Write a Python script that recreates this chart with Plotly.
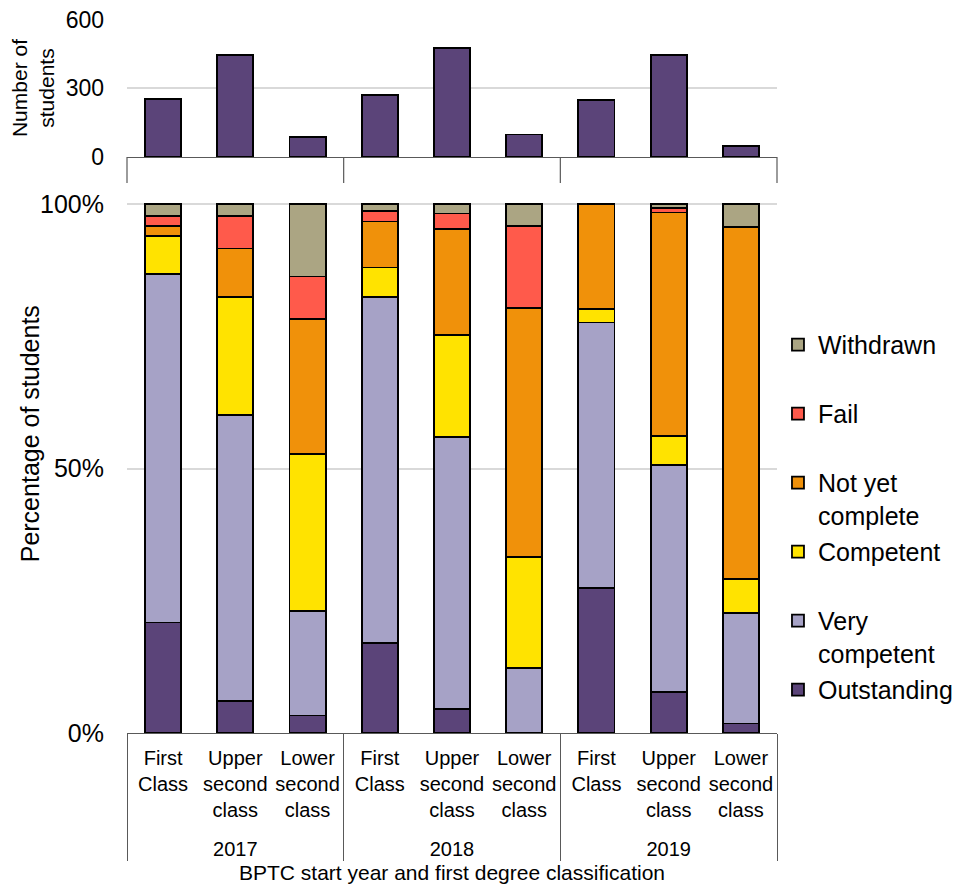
import plotly.graph_objects as go

years = ["2017", "2018", "2019"]
PAD = "<br><span style='font-size:2px'>\u00a0</span>"
classes = ["First<br>Class", "Upper<br>second<br>class" + PAD, "Lower<br>second<br>class" + PAD]

students = [253, 445, 88, 271, 476, 98, 250, 445, 47]

outstanding = [20.9, 6.0, 3.3, 17.0, 4.5, None, 27.4, 7.7, 1.8]
very_competent = [65.9, 54.1, 19.8, 65.5, 51.5, 12.3, 50.2, 43.0, 20.9]
competent = [7.2, 22.4, 29.6, 5.5, 19.2, 20.9, 2.5, 5.5, 6.4]
not_yet_complete = [1.8, 9.1, 25.6, 8.7, 20.1, 47.1, 19.9, 42.2, 66.6]
fail = [2.0, 6.2, 8.0, 2.0, 2.9, 15.5, None, 0.8, None]
withdrawn = [2.2, 2.2, 13.7, 1.3, 1.8, 4.2, None, 0.8, 4.3]

pct_ticks = [0, 50, 100]
pct_labels = ["0%", "50%", "100%"]
count_ticks = [0, 300, 600]

series = [
    ("Outstanding", outstanding, "#5B4479"),
    ("Very<br>competent", very_competent, "#A6A2C6"),
    ("Competent<br>\u00a0", competent, "#FFE300"),
    ("Not yet<br>complete", not_yet_complete, "#F0910A"),
    ("Fail<br>\u00a0", fail, "#FF5A4B"),
    ("Withdrawn<br>\u00a0", withdrawn, "#ABA583"),
]

x_multi = [[y for y in years for _ in classes], [c for _ in years for c in classes]]

FONT = "Liberation Sans, Arial, sans-serif"
AXIS_DARK = "#595959"
GRID = "#D9D9D9"

# page body has an 8px margin; the figure is sized to fill the rest of the window
W, H = 952, 877

fig = go.Figure()

fig.add_trace(go.Bar(
    x=x_multi, y=students, xaxis="x2", yaxis="y2",
    marker=dict(color="#5B4479", line=dict(color="black", width=1.8)),
    width=0.5, showlegend=False,
))

n = len(series)
for i, (name, vals, color) in enumerate(series):
    fig.add_trace(go.Bar(
        x=x_multi, y=vals, name=name, xaxis="x", yaxis="y",
        legendgroup=f"g{i}", legendrank=n - i,
        marker=dict(color=color, line=dict(color="black", width=1.8)),
        width=0.5,
    ))

fig.update_layout(
    width=W, height=H,
    margin=dict(l=119, r=183, t=10, b=152, autoexpand=False),
    paper_bgcolor="white", plot_bgcolor="white",
    barmode="stack",
    font=dict(family=FONT, color="black"),
    xaxis=dict(
        type="multicategory", domain=[0, 1], anchor="y",
        showline=True, linecolor=AXIS_DARK, linewidth=1.2,
        showgrid=False, showdividers=True, dividercolor=AXIS_DARK, dividerwidth=1.2,
        tickangle=0, ticklabelstandoff=7,
        tickfont=dict(size=20, family=FONT, color="black"),
        title=dict(text="BPTC start year and first degree classification",
                   font=dict(size=21, family=FONT, color="black"), standoff=6),
        automargin=False,
    ),
    yaxis=dict(
        domain=[0, 0.7413], anchor="x", range=[0, 100.2],
        tickvals=pct_ticks, ticktext=pct_labels,
        showgrid=True, gridcolor=GRID, gridwidth=1.5, zeroline=False,
        showline=False, ticklabelstandoff=22,
        tickfont=dict(size=25, family=FONT, color="black"),
        automargin=False,
    ),
    xaxis2=dict(
        type="multicategory", domain=[0, 1], anchor="y2",
        showticklabels=False, showline=True, linecolor=AXIS_DARK, linewidth=1.2,
        showgrid=False, showdividers=False, automargin=False,
    ),
    yaxis2=dict(
        domain=[0.8056, 0.9985], anchor="x2", range=[0, 602],
        tickvals=count_ticks, ticklabeloverflow="allow",
        showgrid=True, gridcolor=GRID, gridwidth=1.5, zeroline=False,
        showline=False, ticklabelstandoff=22,
        tickfont=dict(size=23, family=FONT, color="black"),
        title=dict(text="Number of<br>students", font=dict(size=21, family=FONT, color="black"), standoff=10),
        automargin=False,
    ),
    legend=dict(
        x=0.0015 + 1, xanchor="left", y=0.575, yanchor="top",
        traceorder="grouped", tracegroupgap=1, valign="top",
        font=dict(size=25, family=FONT, color="black"),
        itemwidth=30, bgcolor="rgba(0,0,0,0)",
    ),
    annotations=[dict(
        text="Percentage of students", textangle=-90,
        xref="paper", yref="paper", x=-0.149, y=0.418,
        xanchor="center", yanchor="middle", showarrow=False,
        font=dict(size=25, family=FONT, color="black"),
    )],
)

# short group separators under the top panel's baseline
top_sep_len = 26 / 138
for xp in [0, 1 / 3, 2 / 3, 1]:
    fig.add_shape(type="line", xref="paper", yref="y2 domain",
                  x0=xp, x1=xp, y0=0, y1=-top_sep_len,
                  line=dict(color=AXIS_DARK, width=1.2))

fig.write_html("out.html")
